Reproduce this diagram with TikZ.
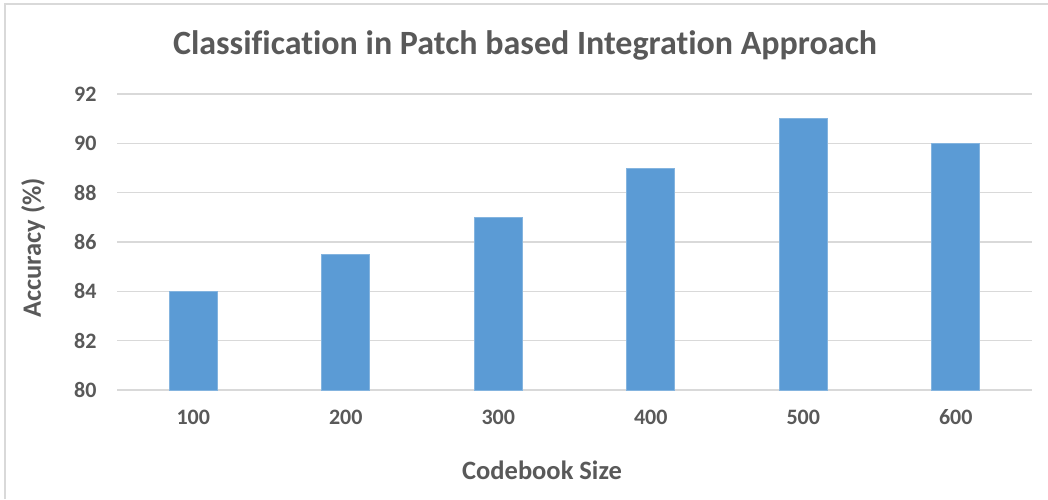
\documentclass[tikz,border=0pt]{standalone}
\usepackage{fontspec}
\setmainfont[Ligatures={NoCommon}]{Carlito}
\definecolor{barblue}{HTML}{5B9BD5}
\definecolor{labelgray}{HTML}{595959}
\definecolor{gridgray}{HTML}{D9D9D9}

\begin{document}
\begin{tikzpicture}[x=1pt,y=-1pt,
    bar/.style={fill=barblue, draw=barblue!75!white, line width=0.8pt},
    grid line/.style={draw=gridgray, line width=1.3pt},
    tick label/.style={text=labelgray, font=\fontsize{22}{26}\selectfont\bfseries},
    axis title/.style={text=labelgray, font=\fontsize{26.5}{31}\selectfont\bfseries},
    chart title/.style={text=labelgray, font=\fontsize{34}{40}\selectfont\bfseries}]
    \useasboundingbox (0,0) rectangle (1048,499);
    \coordinate (frameBL) at (5,499);
    \coordinate (frameTL) at (5,4);
    \coordinate (frameTR) at (1048,4);
    \draw[gridgray, line width=1.5pt] (frameBL) -- (frameTL) -- (frameTR);
    \foreach \v in {80,82,...,92} {
        \coordinate (g\v) at (117,{390-(\v-80)*24.67});
        \coordinate (h\v) at (1032,{390-(\v-80)*24.67});
        \draw[grid line] (g\v) -- (h\v);
        \node[tick label, anchor=east] (y\v) at ([xshift=-17pt]g\v) {\v};
    }
    \foreach \c/\v [count=\i] in {100/84,200/85.5,300/87,400/89,500/91,600/90} {
        \coordinate (b\i) at ({117+(\i-0.5)*152.5-24},390);
        \coordinate (t\i) at ({117+(\i-0.5)*152.5+24},{390-(\v-80)*24.67});
        \draw[bar] (b\i) rectangle (t\i);
        \node[tick label] (x\i) at ({117+(\i-0.5)*152.5},417) {\c};
    }
    \node[chart title] (title) at (525,45) {Classification in Patch based Integration Approach};
    \node[axis title] (xlab) at (542,470) {Codebook Size};
    \node[axis title, rotate=90] (ylab) at (33,248) {Accuracy (\%)};
\end{tikzpicture}
\end{document}
